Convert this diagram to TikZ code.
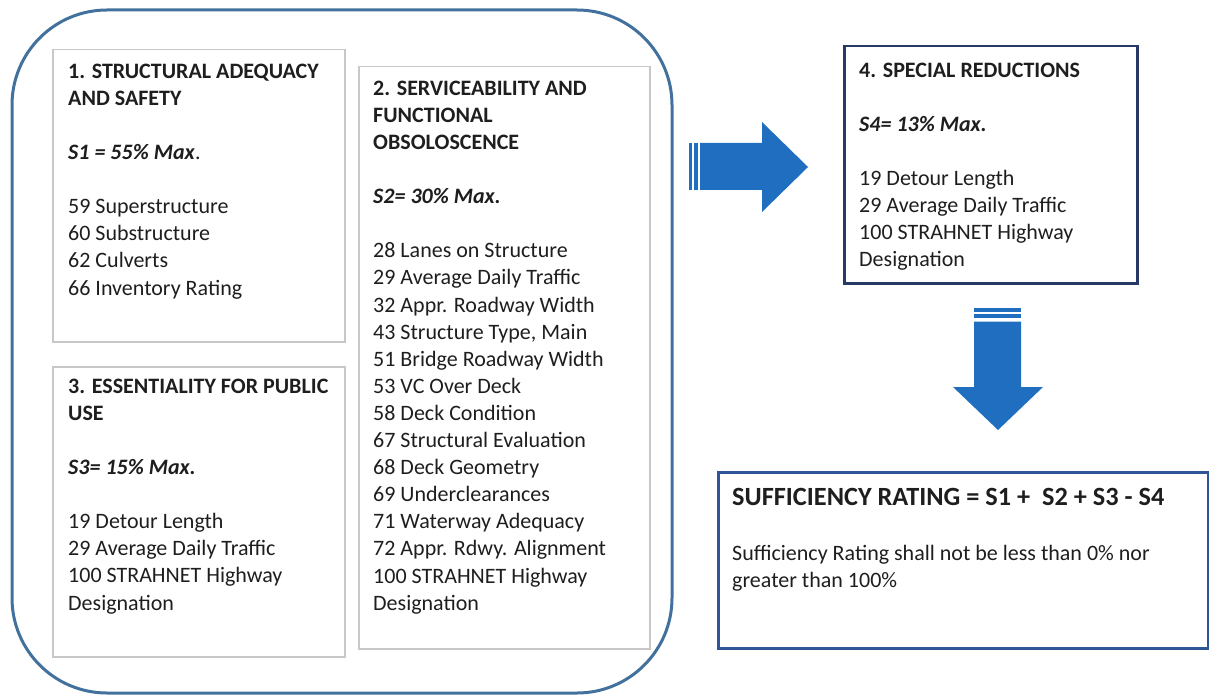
\documentclass[tikz,border=0pt]{standalone}
\usepackage{fontspec}
\setmainfont{Carlito}
\definecolor{outerblue}{RGB}{65,113,156}
\definecolor{boxgrey}{RGB}{200,200,200}
\definecolor{navybox}{RGB}{38,58,100}
\definecolor{suffblue}{RGB}{47,85,151}
\definecolor{arrowblue}{RGB}{31,110,191}
\definecolor{textcol}{RGB}{30,30,30}
\newcommand{\firstline}{\rule{0pt}{18pt}}
\begin{document}
\begin{tikzpicture}[x=1pt,y=-1pt,
  greybox/.style={draw=boxgrey, line width=1.5pt, anchor=north west, inner sep=0pt},
  navyframe/.style={draw=navybox, line width=2.5pt, anchor=north west, inner sep=0pt},
  suffframe/.style={draw=suffblue, line width=2.5pt, anchor=north west, inner sep=0pt},
  txt/.style={anchor=north west, inner sep=0pt, align=left, font=\fontsize{22}{27.1}\selectfont, text=textcol},
  blockarrow/.style={fill=arrowblue}
 ]
\useasboundingbox (0,0) rectangle (1209,695);
% outer rounded frame
\draw[outerblue, line width=3pt, rounded corners=95pt] (12,10) rectangle (672,693);
% boxes
\node[greybox, minimum width=292pt, minimum height=292pt] (b1) at (52,49) {};
\node[greybox, minimum width=291pt, minimum height=582pt] (b2) at (358,66) {};
\node[greybox, minimum width=292pt, minimum height=290pt] (b3) at (52,366) {};
\node[navyframe, minimum width=293pt, minimum height=237pt] (b4) at (843,45) {};
\node[suffframe, minimum width=490pt, minimum height=176pt] (b5) at (717,471) {};
% texts
\node[txt] (t1) at (68,60) {\firstline\textbf{1. STRUCTURAL ADEQUACY}\\
\textbf{AND SAFETY}\\ \mbox{}\\
\textbf{\textit{S1 = 55\% Max}}.\\ \mbox{}\\
59 Superstructure\\
60 Substructure\\
62 Culverts\\
66 Inventory Rating};
\node[txt] (t2) at (373,77) {\firstline\textbf{2. SERVICEABILITY AND}\\
\textbf{FUNCTIONAL}\\
\textbf{OBSOLOSCENCE}\\ \mbox{}\\
\textbf{\textit{S2= 30\% Max.}}\\ \mbox{}\\
28 Lanes on Structure\\
29 Average Daily Traffic\\
32 Appr. Roadway Width\\
43 Structure Type, Main\\
51 Bridge Roadway Width\\
53 VC Over Deck\\
58 Deck Condition\\
67 Structural Evaluation\\
68 Deck Geometry\\
69 Underclearances\\
71 Waterway Adequacy\\
72 Appr. Rdwy. Alignment\\
100 STRAHNET Highway\\
Designation};
\node[txt] (t3) at (68,375) {\firstline\textbf{3. ESSENTIALITY FOR PUBLIC}\\
\textbf{USE}\\ \mbox{}\\
\textbf{\textit{S3= 15\% Max.}}\\ \mbox{}\\
19 Detour Length\\
29 Average Daily Traffic\\
100 STRAHNET Highway\\
Designation};
\node[txt] (t4) at (859,59) {\firstline\textbf{4. SPECIAL REDUCTIONS}\\ \mbox{}\\
\textbf{\textit{S4= 13\% Max.}}\\ \mbox{}\\
19 Detour Length\\
29 Average Daily Traffic\\
100 STRAHNET Highway\\
Designation};
\node[anchor=base west, inner sep=0pt, font=\fontsize{26.3}{30}\selectfont\bfseries, text=textcol] (t5) at (732,505) {SUFFICIENCY RATING = S1 +\ \ S2 + S3 - S4};
\node[txt] (t6) at (732,542) {\firstline Sufficiency Rating shall not be less than 0\% nor\\
greater than 100\%};
% right block arrow
\fill[blockarrow] (688.5,143) rectangle (691.5,190);
\fill[blockarrow] (693.5,143) rectangle (697.5,190);
\fill[blockarrow] (700,143) -- (762,143) -- (762,122) -- (808,167) -- (762,212) -- (762,190) -- (700,190) -- cycle;
% down block arrow
\fill[blockarrow] (974,308) rectangle (1021,311.5);
\fill[blockarrow] (974,314) rectangle (1021,318);
\fill[blockarrow] (974,321.5) -- (1021,321.5) -- (1021,387) -- (1043,387) -- (998,430) -- (953,387) -- (974,387) -- cycle;
\end{tikzpicture}
\end{document}
